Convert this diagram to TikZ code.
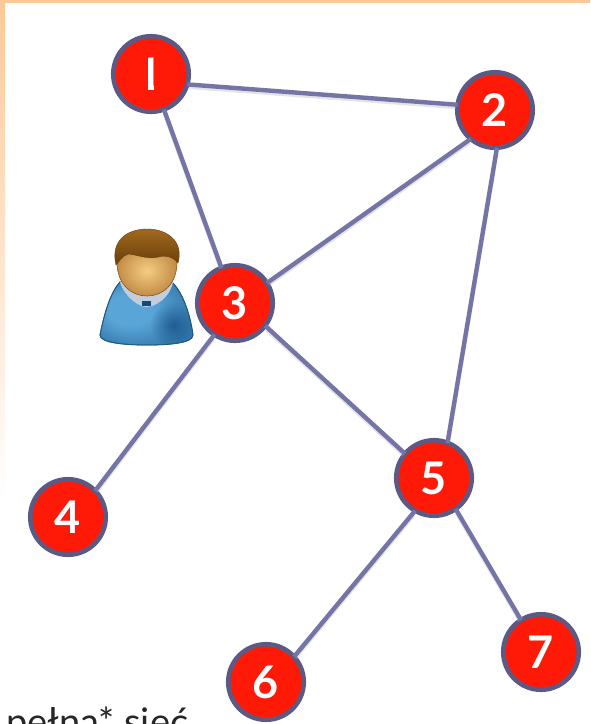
\documentclass[tikz,border=0pt]{standalone}
\usepackage{fontspec}
\setmainfont{Lato}
\usetikzlibrary{fadings}
\definecolor{edgeC}{HTML}{7474A6}
\definecolor{ringC}{HTML}{5A5A84}
\definecolor{redC}{HTML}{FF1A08}
\definecolor{orangeC}{HTML}{FCC996}
\definecolor{bodyIn}{RGB}{90,165,215}
\definecolor{bodyOut}{RGB}{55,125,175}
\definecolor{bodyDark}{RGB}{25,85,140}
\definecolor{bodyLn}{RGB}{30,90,125}
\definecolor{collarC}{RGB}{196,206,218}
\definecolor{tieC}{RGB}{15,75,135}
\definecolor{faceIn}{RGB}{245,205,130}
\definecolor{faceOut}{RGB}{195,140,70}
\definecolor{faceLn}{RGB}{135,85,25}
\definecolor{hairTop}{RGB}{160,105,30}
\definecolor{hairBot}{RGB}{105,62,10}
\tikzfading[name=softblob,inner color=transparent!15,outer color=transparent!100]
\pgfdeclareradialshading{bodyshade}{\pgfpoint{-12bp}{4bp}}{
  color(0bp)=(bodyIn); color(12bp)=(bodyIn); color(30bp)=(bodyOut); color(50bp)=(bodyOut)}
\tikzset{
  x=1pt,y=-1pt,
  vertex/.style={circle,draw=ringC,line width=4.6pt,fill=redC,minimum size=75.5pt,inner sep=0pt,outer sep=0pt,
    text=white,font=\fontsize{45}{45}\selectfont\bfseries},
  link/.style={draw=edgeC,line width=4.4pt},
  linkshadow/.style={draw=black!30,line width=4pt,opacity=.35},
}
\begin{document}
\begin{tikzpicture}
\useasboundingbox (0,0) rectangle (590,724);
\clip (0,0) rectangle (590,724);
\fill[white] (0,0) rectangle (590,724);
\shade[top color=orangeC,bottom color=white] (0,0) rectangle (5,500);
\fill[orangeC] (0,0) rectangle (590,3);
% person
\def\bodypath{(120,282) .. controls (108,295) and (102,325) .. (100,335)
  .. controls (100,343) and (125,345) .. (147,345)
  .. controls (170,345) and (193,343) .. (193,335)
  .. controls (191,320) and (185,295) .. (172,282) -- cycle}
\shade[shading=bodyshade,draw=bodyLn,line width=.8pt] \bodypath;
\begin{scope}
\clip \bodypath;
\fill[bodyDark,path fading=softblob] (174,325) circle (24);
\end{scope}
\draw[bodyLn,line width=.8pt] \bodypath;
\fill[collarC] (120,282) .. controls (125,298) and (140,307) .. (146,307)
  .. controls (155,307) and (170,298) .. (173,282) -- cycle;
\fill[tieC] (142,301) rectangle (151,306);
\shade[inner color=faceIn,outer color=faceOut,draw=faceLn,line width=.6pt]
  (117,262) .. controls (117,285) and (132,296) .. (147,296)
  .. controls (162,296) and (177,285) .. (177,262)
  .. controls (177,245) and (117,245) .. (117,262) -- cycle;
\shade[top color=hairTop,bottom color=hairBot,draw=hairBot,line width=.4pt]
  (116,265) .. controls (110,240) and (128,229) .. (147,229)
  .. controls (168,229) and (184,242) .. (178,263)
  .. controls (172,256) and (165,255) .. (158,257)
  .. controls (148,260) and (135,254) .. (128,254)
  .. controls (122,256) and (119,262) .. (116,265) -- cycle;
\node[vertex] (n1) at (151,74) {\tikz{\useasboundingbox (-10,-15) rectangle (10,15);\clip (-2.6,-17.5) rectangle (2.6,17.5);\node[inner sep=0pt,text=white] at (-1.3,0) {1};}};
\node[vertex] (n2) at (495,110) {2};
\node[vertex] (n3) at (235,303) {3};
\node[vertex] (n4) at (68,517) {4};
\node[vertex] (n5) at (434,478) {5};
\node[vertex] (n6) at (266,682) {6};
\node[vertex] (n7) at (541,652) {7};
\foreach \a/\b in {n1.-16/n2.172,n1.-70/n3.111,n2.230/n3.32,n2.273/n5.69,n3.237/n4.44,n3.323/n5.140,n5.240/n6.42,n5.305/n7.122}{
  \draw[linkshadow,shorten >=2pt,shorten <=2pt] ([yshift=-2.5pt]\a) -- ([yshift=-2.5pt]\b);
  \draw[link] (\a) -- (\b);
}
\node[anchor=base west,inner sep=0pt,font=\fontsize{38}{38}\selectfont,text=black!85] (cap) at (6,735) {pełna* sieć};
\end{tikzpicture}
\end{document}
